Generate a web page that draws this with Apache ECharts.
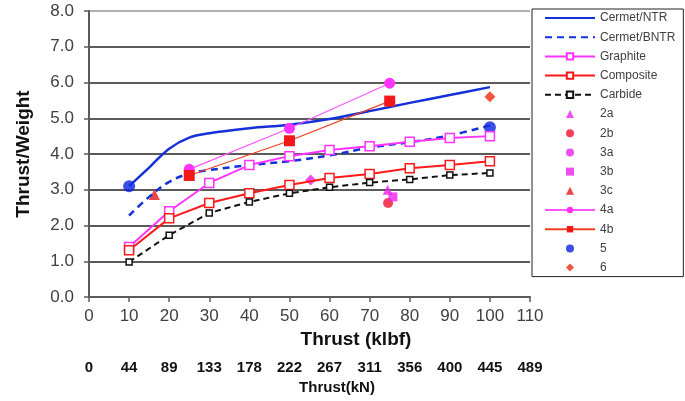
<!DOCTYPE html>
<html>
<head>
<meta charset="utf-8">
<script src="https://cdn.jsdelivr.net/npm/echarts@6/dist/echarts.min.js"></script>
<style>html,body{margin:0;padding:0;background:#fff;}#c{width:685px;height:401px;}</style>
</head>
<body>
<div id="c"></div>
<script>
// ---- data ----
var ntrX = [10, 15, 20, 25, 30, 40, 50, 60, 70, 80, 90, 100];
var cermetNTR = [3.1, 3.62, 4.15, 4.46, 4.58, 4.72, 4.82, 4.98, 5.2, 5.43, 5.65, 5.87];
var cermetBNTR = [2.28, 2.8, 3.22, 3.45, 3.55, 3.69, 3.8, 3.96, 4.18, 4.33, 4.52, 4.8];
var matX = [10, 20, 30, 40, 50, 60, 70, 80, 90, 100];
var graphite = [1.4, 2.4, 3.19, 3.69, 3.94, 4.11, 4.22, 4.34, 4.45, 4.5];
var composite = [1.31, 2.2, 2.63, 2.9, 3.13, 3.33, 3.44, 3.6, 3.69, 3.8];
var carbide = [0.98, 1.73, 2.35, 2.66, 2.9, 3.07, 3.2, 3.29, 3.41, 3.47];
var p2a = [[74.5, 3.0]];
var p2b = [[74.6, 2.63]];
var p3a = [[55.3, 3.27]];
var p3b = [[75.8, 2.8]];
var p3c = [[16.3, 2.87]];
var p4a = [[25, 3.57], [50, 4.72], [75, 5.98]];
var p4b = [[25, 3.4], [50, 4.37], [75, 5.48]];
var p5 = [[10, 3.1], [100, 4.75]];
var p6 = [[100, 5.6]];
var kNLabels = ['0', '44', '89', '133', '178', '222', '267', '311', '356', '400', '445', '489'];

function pairs(xs, ys) { return xs.map(function (x, i) { return [x, ys[i]]; }); }

var FONT = 'Liberation Sans, Arial, sans-serif';
var ICON_TRI = 'path://M5,0L10,10L0,10Z';
var ICON_CIRCLE = 'path://M5,0A5,5,0,1,1,4.999,0Z';
var ICON_RECT = 'path://M0,0L10,0L10,10L0,10Z';
var ICON_DIAMOND = 'path://M5,0L10,5L5,10L0,5Z';
var noMarker = { color: 'rgba(0,0,0,0)', borderWidth: 0, opacity: 0 };

var chart = echarts.init(document.getElementById('c'), null, { renderer: 'canvas' });

var gridColors = ['#5a5a5a', '#5a5a5a', '#5a5a5a', '#5a5a5a', '#5a5a5a', '#5a5a5a', '#5a5a5a', '#5a5a5a', '#b0b0b0'];

chart.setOption({
  animation: false,
  backgroundColor: '#fff',
  grid: { left: 89, right: 155, top: 11, bottom: 104, containLabel: false },
  legend: {
    orient: 'vertical', left: 532, top: 9,
    padding: [2, 8, 2, 12],
    backgroundColor: '#fff', borderColor: '#222', borderWidth: 1,
    itemWidth: 50, itemHeight: 8, itemGap: 5.2,
    symbolKeepAspect: true,
    textStyle: { fontFamily: FONT, fontSize: 12, color: '#404040', lineHeight: 14 },
    data: [
      { name: 'Cermet/NTR', itemStyle: noMarker },
      { name: 'Cermet/BNTR', itemStyle: noMarker },
      'Graphite', 'Composite', 'Carbide',
      { name: '2a', icon: ICON_TRI },
      { name: '2b', icon: ICON_CIRCLE },
      { name: '3a', icon: ICON_CIRCLE },
      { name: '3b', icon: ICON_RECT },
      { name: '3c', icon: ICON_TRI },
      '4a', '4b',
      { name: '5', icon: ICON_CIRCLE },
      { name: '6', icon: ICON_DIAMOND }
    ]
  },
  xAxis: [{
    type: 'value', min: 0, max: 110, interval: 10,
    name: 'Thrust (klbf)', nameLocation: 'middle', nameGap: 24,
    nameTextStyle: { fontFamily: FONT, fontSize: 19, fontWeight: 'bold', color: '#111', padding: [0, 0, 0, 93] },
    axisLine: { show: true, onZero: false, lineStyle: { color: '#5a5a5a', width: 2 } },
    axisTick: { show: true, length: 5, lineStyle: { color: '#5a5a5a', width: 1.5 } },
    axisLabel: { fontFamily: FONT, fontSize: 17, color: '#404040', margin: 11 },
    splitLine: { show: false }
  }, {
    type: 'value', min: 0, max: 110, interval: 10, position: 'bottom', offset: 58,
    name: 'Thrust(kN)', nameLocation: 'middle', nameGap: 24,
    nameTextStyle: { fontFamily: FONT, fontSize: 15, fontWeight: 'bold', color: '#111', padding: [0, 0, 0, 55] },
    axisLine: { show: false }, axisTick: { show: false }, splitLine: { show: false },
    axisLabel: {
      fontFamily: FONT, fontSize: 15, fontWeight: 'bold', color: '#111', margin: 5,
      formatter: function (v) { return kNLabels[Math.round(v / 10)]; }
    }
  }],
  yAxis: {
    type: 'value', min: 0, max: 8, interval: 1,
    name: 'Thrust/Weight', nameLocation: 'middle', nameGap: 56,
    nameTextStyle: { fontFamily: FONT, fontSize: 19, fontWeight: 'bold', color: '#111' },
    axisLine: { show: true, lineStyle: { color: '#5a5a5a', width: 2 } },
    axisTick: { show: true, length: 5, lineStyle: { color: '#5a5a5a', width: 1.5 } },
    axisLabel: { fontFamily: FONT, fontSize: 17, color: '#404040', margin: 15, formatter: function (v) { return v.toFixed(1); } },
    splitLine: { show: true, lineStyle: { color: gridColors, width: 2 } }
  },
  series: [
    { name: 'Cermet/NTR', type: 'line', smooth: 0.4, symbol: 'none', data: pairs(ntrX, cermetNTR),
      lineStyle: { color: '#1530d8', width: 2.5 }, itemStyle: { color: '#1530d8' } },
    { name: 'Cermet/BNTR', type: 'line', smooth: 0.4, symbol: 'none', data: pairs(ntrX, cermetBNTR),
      lineStyle: { color: '#1530d8', width: 2.5, type: [7, 5] }, itemStyle: { color: '#1530d8' } },
    { name: 'Graphite', type: 'line', data: pairs(matX, graphite), symbol: 'rect', symbolSize: 9,
      lineStyle: { color: '#ff33ff', width: 2 }, itemStyle: { color: '#fff', borderColor: '#ff33ff', borderWidth: 1.5 } },
    { name: 'Composite', type: 'line', data: pairs(matX, composite), symbol: 'rect', symbolSize: 9,
      lineStyle: { color: '#ff1a1a', width: 2 }, itemStyle: { color: '#fff', borderColor: '#ff1a1a', borderWidth: 1.5 } },
    { name: 'Carbide', type: 'line', data: pairs(matX, carbide), symbol: 'rect', symbolSize: 6,
      lineStyle: { color: '#111', width: 2, type: [6, 4] }, itemStyle: { color: '#fff', borderColor: '#111', borderWidth: 1.5 } },
    { name: '4a', type: 'line', data: p4a, symbol: 'circle', symbolSize: 11,
      lineStyle: { color: '#ff55ff', width: 1.2 }, itemStyle: { color: '#ff33ff' } },
    { name: '4b', type: 'line', data: p4b, symbol: 'rect', symbolSize: 11,
      lineStyle: { color: '#f04020', width: 1.2 }, itemStyle: { color: '#f01818' } },
    { name: '2a', type: 'scatter', data: p2a, symbol: 'triangle', symbolSize: 10, itemStyle: { color: '#ee22ee' } },
    { name: '2b', type: 'scatter', data: p2b, symbol: 'circle', symbolSize: 10, itemStyle: { color: '#f01030' } },
    { name: '3a', type: 'scatter', data: p3a, symbol: 'diamond', symbolSize: 11, itemStyle: { color: '#ee22ee' } },
    { name: '3b', type: 'scatter', data: p3b, symbol: 'rect', symbolSize: 9, itemStyle: { color: '#ee22ee' } },
    { name: '3c', type: 'scatter', data: p3c, symbol: 'triangle', symbolSize: 11, itemStyle: { color: '#e81818' } },
    { name: '5', type: 'scatter', data: p5, symbol: 'circle', symbolSize: 12, itemStyle: { color: '#0a22e0' } },
    { name: '6', type: 'scatter', data: p6, symbol: 'diamond', symbolSize: 11, itemStyle: { color: '#ee2a10' } }
  ]
});
</script>
</body>
</html>
